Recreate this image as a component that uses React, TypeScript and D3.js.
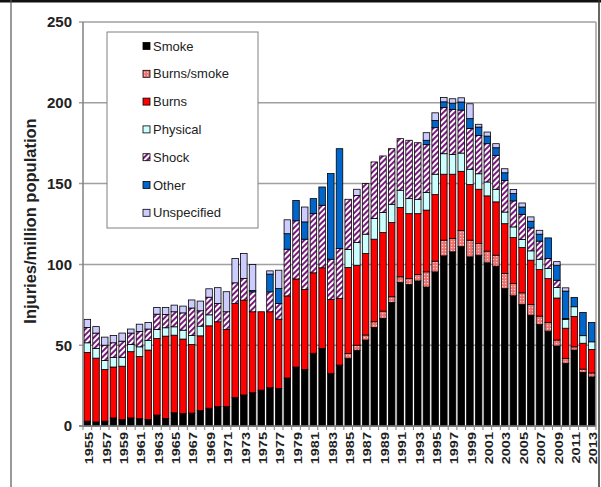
import React, { useEffect, useRef } from 'react'
import * as d3 from 'd3'

// categories: every year 1955..2013
const years = d3.range(1955, 2014).map(String)

// injuries per million population (bottom to top)
const smoke = [
  3, 2.5, 3, 5, 4, 5, 4.5, 4, 6.8, 4.7,
  8.2, 7.8, 8, 9.5, 11, 12, 12, 17.7, 19.2, 20.6,
  22.2, 23.7, 23.3, 29.7, 36.5, 35, 45, 48, 32.6, 37.7,
  41.9, 46.9, 53.2, 61, 66.6, 76.4, 88.8, 87.5, 89.8, 86,
  95.4, 105.3, 107.8, 111, 104.7, 105.7, 101, 98.9, 85, 80.6,
  75.2, 68.6, 62.8, 58.7, 49.5, 38.8, 47, 33.2, 30.4,
]
const burnsSmoke = [
  0, 0, 0, 0, 0, 0, 0, 0, 0, 0,
  0, 0, 0, 0, 0, 0, 0, 0, 0, 0,
  0, 0, 0, 0, 0, 0, 0, 0, 0, 0,
  3, 3.1, 3.1, 3.5, 4.5, 3.6, 3.5, 3.7, 3.9, 9.4,
  6.6, 9.7, 8.2, 10, 10.3, 7.2, 7.2, 6.8, 9.3, 7.6,
  7.2, 6.6, 5.2, 5.3, 3.7, 3.1, 2, 2, 2.4,
]
const burns = [
  42.5, 39.5, 32, 31.5, 33, 41, 38.5, 43, 47.4, 50.9,
  48, 46, 42.5, 46.3, 51, 52.5, 47.8, 58.1, 58.7, 50.1,
  48.5, 47, 42.8, 50.8, 54.5, 49.5, 49.8, 49.9, 45.7, 41.2,
  53.2, 49.5, 50.4, 51.1, 48.6, 45.9, 42.9, 40.2, 37.7, 38.2,
  41.2, 40.8, 39.8, 36.6, 34.4, 33.6, 34.2, 33, 30.9, 28.4,
  28, 27.4, 28.8, 27.2, 26, 18.6, 18.8, 16, 14.6,
]
const physical = [
  6, 6, 5.5, 6, 5.5, 4.5, 6, 6, 5.5, 5.2,
  5.2, 5.5, 5.5, 6, 6.8, 0, 0, 0, 0, 0,
  0, 0, 0, 0, 0, 0, 0, 0, 0, 0,
  11.1, 14, 12, 12.8, 12.4, 11.3, 10.7, 9.3, 8.9, 10.9,
  12.6, 12.7, 12.2, 11.3, 9.5, 9.6, 8.6, 7.8, 7.2, 6.6,
  5, 5.8, 6.4, 6.2, 6.5, 5.5, 6, 4.7, 4.7,
]
const shock = [
  9.5, 9.5, 9.5, 9, 10, 7, 9.5, 7, 9.5, 8.2,
  9.3, 10.7, 17, 9.5, 10.9, 11.3, 10.9, 12.8, 13.4, 12.3,
  0, 12.3, 9.7, 28.9, 36, 31.1, 36.6, 38.7, 24.9, 30.9,
  31.1, 29.2, 31.3, 35, 35, 34.4, 31.9, 36.1, 35, 29.6,
  28.8, 28.6, 27.9, 26.6, 25.2, 23.7, 23.7, 21, 19.6, 16.1,
  15.6, 14.2, 11.2, 6.2, 4.5, 0.5, 0, 0, 0,
]
const other = [
  0, 0, 0, 0, 0, 0, 0, 0, 0, 0,
  0, 0, 0, 0, 0, 0, 0, 0, 0, 0.8,
  0, 11, 9.3, 9.6, 12.6, 10.7, 9.3, 11.3, 53, 61.8,
  0, 0, 0, 0, 0, 0, 0, 0, 0, 2.7,
  4.5, 3.5, 3.9, 5, 6.1, 5.2, 4.7, 4.7, 4.7, 4.5,
  4.5, 4.1, 4.3, 12.8, 9.3, 17, 5.8, 14.4, 12,
]
const unspecified = [
  5, 4, 5, 4.5, 5, 2.5, 4.5, 4, 4.2, 4.4,
  4.1, 4.2, 5, 6, 5.2, 9.8, 12.4, 15, 15.4, 16.1,
  0, 2, 11.3, 8.6, 0, 9.2, 0, 0, 0, 0,
  0, 3.8, 0, 0, 0, 0, 0, 0, 0, 4.7,
  4.7, 2.7, 2.7, 2.6, 9.2, 1.7, 2.5, 2.5, 2.5, 2.6,
  2.5, 2.7, 2.4, 0, 2.2, 2, 0, 0, 0,
]

const yTicks = [0, 50, 100, 150, 200, 250]

const series = [
  { key: 'smoke', label: 'Smoke', values: smoke, fill: '#000000' },
  { key: 'burnsSmoke', label: 'Burns/smoke', values: burnsSmoke, fill: 'url(#pat-bs)' },
  { key: 'burns', label: 'Burns', values: burns, fill: '#ff0000' },
  { key: 'physical', label: 'Physical', values: physical, fill: '#ccffff' },
  { key: 'shock', label: 'Shock', values: shock, fill: 'url(#pat-shock)' },
  { key: 'other', label: 'Other', values: other, fill: '#0066cc' },
  { key: 'unspecified', label: 'Unspecified', values: unspecified, fill: '#ccccff' },
]

const font = 'Arial, "Liberation Sans", sans-serif'

const App: React.FC = () => {
  const ref = useRef<SVGSVGElement>(null)

  useEffect(() => {
    const width = 601
    const height = 487
    const plot = { left: 83, right: 596, top: 22, bottom: 426 }

    const svg = d3.select(ref.current).attr('width', width).attr('height', height)
    svg.selectAll('*').remove()

    const defs = svg.append('defs')
    const bs = defs
      .append('pattern')
      .attr('id', 'pat-bs')
      .attr('patternUnits', 'userSpaceOnUse')
      .attr('width', 3)
      .attr('height', 3)
    bs.append('rect').attr('width', 3).attr('height', 3).attr('fill', '#f07070')
    bs.append('rect').attr('x', 1).attr('y', 1).attr('width', 1.2).attr('height', 1.2).attr('fill', '#ffd0d0')

    const sh = defs
      .append('pattern')
      .attr('id', 'pat-shock')
      .attr('patternUnits', 'userSpaceOnUse')
      .attr('width', 4)
      .attr('height', 4)
      .attr('patternTransform', 'rotate(45)')
    sh.append('rect').attr('width', 4).attr('height', 4).attr('fill', '#ffffff')
    sh.append('rect').attr('width', 2).attr('height', 4).attr('fill', '#7a1a80')

    const table = years.map((year, i) => {
      const row: Record<string, number | string> = { year }
      series.forEach((s) => (row[s.key] = s.values[i]))
      return row
    })

    const stacked = d3.stack<any>().keys(series.map((s) => s.key))(table)

    const x = d3
      .scaleBand()
      .domain(years)
      .range([plot.left, plot.right])
      .paddingInner(0.25)
      .paddingOuter(0.125)
    const y = d3.scaleLinear().domain([0, 250]).range([plot.bottom, plot.top])

    // outer frame
    svg.append('line').attr('x1', 0).attr('x2', width).attr('y1', 1.2).attr('y2', 1.2)
      .attr('stroke', '#111').attr('stroke-width', 2.4)
    svg.append('line').attr('x1', 11).attr('x2', 11).attr('y1', 0).attr('y2', height)
      .attr('stroke', '#555').attr('stroke-width', 1.2)
    svg.append('line').attr('x1', 599).attr('x2', 599).attr('y1', 0).attr('y2', height)
      .attr('stroke', '#333').attr('stroke-width', 1.5)

    // gridlines
    svg
      .append('g')
      .selectAll('line')
      .data(yTicks)
      .enter()
      .append('line')
      .attr('x1', plot.left - 4)
      .attr('x2', plot.right)
      .attr('y1', (d) => y(d))
      .attr('y2', (d) => y(d))
      .attr('stroke', '#a0a0a0')
      .attr('stroke-width', 1.5)

    svg.append('line').attr('x1', plot.right).attr('x2', plot.right)
      .attr('y1', plot.top).attr('y2', plot.bottom)
      .attr('stroke', '#a0a0a0').attr('stroke-width', 1.5)

    // bars
    const groups = svg
      .append('g')
      .selectAll('g')
      .data(stacked)
      .enter()
      .append('g')
      .attr('fill', (d, i) => series[i].fill)

    groups
      .selectAll('rect')
      .data((d) => d.filter((p) => p[1] - p[0] > 0.01))
      .enter()
      .append('rect')
      .attr('x', (d) => x(d.data.year as string) as number)
      .attr('width', x.bandwidth())
      .attr('y', (d) => y(d[1]))
      .attr('height', (d) => y(d[0]) - y(d[1]))
      .attr('stroke', '#000')
      .attr('stroke-width', 0.8)

    // axes
    svg.append('line').attr('x1', plot.left).attr('x2', plot.left)
      .attr('y1', plot.top).attr('y2', plot.bottom)
      .attr('stroke', '#808080').attr('stroke-width', 1.5)
    svg.append('line').attr('x1', plot.left - 4).attr('x2', plot.right)
      .attr('y1', plot.bottom).attr('y2', plot.bottom)
      .attr('stroke', '#808080').attr('stroke-width', 1.5)

    const step = x.step()
    svg
      .append('g')
      .selectAll('line')
      .data(d3.range(years.length + 1))
      .enter()
      .append('line')
      .attr('x1', (i) => plot.left + i * step)
      .attr('x2', (i) => plot.left + i * step)
      .attr('y1', plot.bottom)
      .attr('y2', plot.bottom + 4)
      .attr('stroke', '#808080')
      .attr('stroke-width', 1)

    svg
      .append('g')
      .selectAll('text')
      .data(yTicks)
      .enter()
      .append('text')
      .attr('x', 72)
      .attr('y', (d) => y(d))
      .attr('dy', '0.36em')
      .attr('text-anchor', 'end')
      .attr('font-family', font)
      .attr('font-weight', 'bold')
      .attr('font-size', 15)
      .attr('fill', '#222')
      .text((d) => d)

    svg
      .append('g')
      .selectAll('text')
      .data(years.filter((d, i) => i % 2 === 0))
      .enter()
      .append('text')
      .attr(
        'transform',
        (d) => `translate(${(x(d) as number) + x.bandwidth() / 2 + 2},${plot.bottom + 6}) scale(0.72,1) rotate(-90)`,
      )
      .attr('dy', '0.36em')
      .attr('text-anchor', 'end')
      .attr('font-family', font)
      .attr('font-weight', 'bold')
      .attr('font-size', 14.5)
      .attr('fill', '#222')
      .text((d) => d)

    svg
      .append('text')
      .attr('transform', 'translate(30,221) rotate(-90)')
      .attr('dy', '0.36em')
      .attr('text-anchor', 'middle')
      .attr('font-family', font)
      .attr('font-weight', 'bold')
      .attr('font-size', 16.5)
      .attr('fill', '#222')
      .text('Injuries/million population')

    // legend
    const legend = svg.append('g')
    legend.append('rect').attr('x', 107).attr('y', 32).attr('width', 151).attr('height', 196)
      .attr('fill', '#fff').attr('stroke', '#808080').attr('stroke-width', 1)

    const items = legend
      .selectAll('g.item')
      .data(series)
      .enter()
      .append('g')
      .attr('class', 'item')
      .attr('transform', (d, i) => `translate(143,${46 + i * 27.8})`)

    items.append('rect').attr('x', 0).attr('y', -3.5).attr('width', 7).attr('height', 7)
      .attr('fill', (d) => d.fill).attr('stroke', '#000').attr('stroke-width', 0.8)
    items.append('text').attr('x', 10).attr('dy', '0.36em')
      .attr('font-family', font).attr('font-size', 13).attr('fill', '#222')
      .text((d) => d.label)
  }, [])

  return (
    <div style={{ position: 'absolute', top: 0, left: 0 }}>
      <svg ref={ref} style={{ display: 'block' }} />
    </div>
  )
}

export default App
